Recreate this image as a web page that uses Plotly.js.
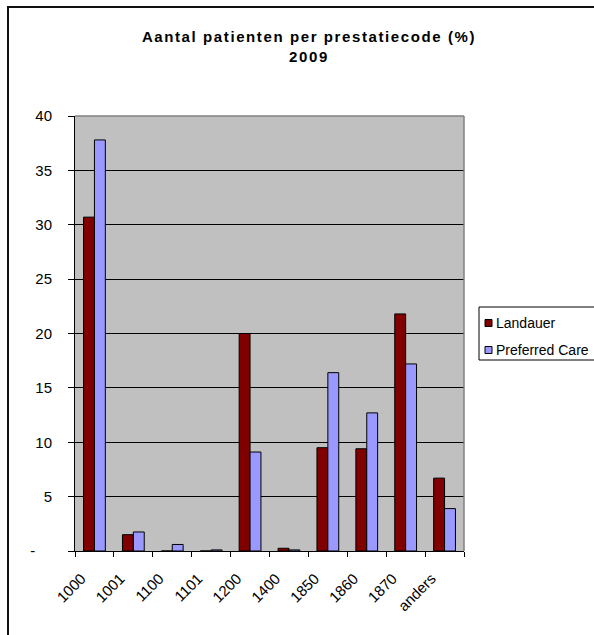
<!DOCTYPE html>
<html>
<head>
<meta charset="utf-8">
<script src="https://cdn.plot.ly/plotly-3.0.1.min.js"></script>
<style>
  html, body { margin: 0; padding: 0; background: #ffffff; overflow: hidden; }
  #chart { position: absolute; left: 0; top: 0; width: 594px; height: 635px; }
  #frame { position: absolute; left: 7px; top: 6px; width: 700px; height: 700px;
           border: 2px solid #111111; pointer-events: none; }
  #chart .gtitle { letter-spacing: 1.6px; }
</style>
</head>
<body>
<div id="chart"></div>
<div id="frame"></div>
<script>
// Prestatiecodes
const categories = ['1000', '1001', '1100', '1101', '1200', '1400', '1850', '1860', '1870', 'anders'];

// Percentage patiënten per code, 2009
const landauer = [30.7, 1.5, 0.0, 0.0, 20.0, 0.25, 9.5, 9.4, 21.8, 6.7];
const preferredCare = [37.8, 1.75, 0.6, 0.1, 9.1, 0.1, 16.4, 12.7, 17.2, 3.9];

const seriesNames = ['Landauer', 'Preferred Care'];
const seriesColors = ['#800000', '#9999ff'];

// Y-as: nul wordt als streepje getoond
const yTickValues = [0, 5, 10, 15, 20, 25, 30, 35, 40];
const yTickLabels = ['-' + '\u00a0'.repeat(4), '5', '10', '15', '20', '25', '30', '35', '40'];

// Plotvlak in pixels
const W = 594, H = 635;
const M = { l: 75, r: 130, t: 116, b: 84 };
const plotW = W - M.l - M.r, plotH = H - M.t - M.b;
const px = v => (v - M.l) / plotW;       // pixel-x -> paper
const py = v => (H - M.b - v) / plotH;   // pixel-y -> paper

const traces = [
  {
    type: 'bar', name: seriesNames[0], x: categories, y: landauer,
    marker: { color: seriesColors[0], line: { color: '#000000', width: 1 } }
  },
  {
    type: 'bar', name: seriesNames[1], x: categories, y: preferredCare,
    marker: { color: seriesColors[1], line: { color: '#000000', width: 1 } }
  }
];

// Legenda: kader, kleurvakjes en namen
const legendShapes = [
  { type: 'rect', xref: 'paper', yref: 'paper', x0: px(479), x1: px(640), y0: py(360), y1: py(307),
    fillcolor: '#ffffff', line: { color: '#000000', width: 1 } }
];
const legendAnnotations = [];
seriesNames.forEach((name, i) => {
  const cy = 323 + i * 27;
  legendShapes.push({
    type: 'rect', xref: 'paper', yref: 'paper',
    x0: px(485), x1: px(492), y0: py(cy + 3.5), y1: py(cy - 3.5),
    fillcolor: seriesColors[i], line: { color: '#000000', width: 1 }
  });
  legendAnnotations.push({
    xref: 'paper', yref: 'paper', x: px(494), y: py(cy),
    xanchor: 'left', yanchor: 'middle', showarrow: false,
    text: name, font: { size: 14, color: '#000000' }
  });
});

const layout = {
  width: W, height: H,
  margin: { l: M.l, r: M.r, t: M.t, b: M.b, pad: 0, autoexpand: false },
  paper_bgcolor: '#ffffff',
  plot_bgcolor: '#c0c0c0',
  font: { family: 'Liberation Sans, Arial, sans-serif', size: 15, color: '#000000' },
  title: {
    text: '<b>Aantal patienten per prestatiecode (%)<br>2009</b>',
    font: { size: 15, color: '#000000' },
    x: 309 / W, xanchor: 'center', y: 1 - 42 / H, yanchor: 'top'
  },
  showlegend: false,
  barmode: 'group',
  bargap: 0.44,
  bargroupgap: 0,
  xaxis: {
    type: 'category',
    tickson: 'boundaries',
    ticks: 'outside', ticklen: 5, tickcolor: '#000000',
    tickangle: -45,
    tickfont: { size: 15 },
    ticklabelstandoff: 12,
    ticklabelshift: -13,
    showline: true, linecolor: '#000000', linewidth: 1,
    showgrid: false, zeroline: false
  },
  yaxis: {
    range: [0, 40],
    tickvals: yTickValues, ticktext: yTickLabels,
    ticks: 'outside', ticklen: 6, tickcolor: '#000000',
    tickfont: { size: 15 },
    ticklabelstandoff: 13,
    showline: true, linecolor: '#000000', linewidth: 1,
    showgrid: true, gridcolor: '#000000', gridwidth: 1,
    zeroline: false
  },
  shapes: [
    // grijze rand boven en rechts van het plotvlak
    { type: 'line', xref: 'paper', yref: 'paper', x0: 0, x1: 1, y0: 1, y1: 1,
      line: { color: '#808080', width: 1.5 } },
    { type: 'line', xref: 'paper', yref: 'paper', x0: 1, x1: 1, y0: 0, y1: 1,
      line: { color: '#808080', width: 1.5 } }
  ].concat(legendShapes),
  annotations: legendAnnotations
};

Plotly.newPlot('chart', traces, layout, { displayModeBar: false, staticPlot: true });
</script>
</body>
</html>
